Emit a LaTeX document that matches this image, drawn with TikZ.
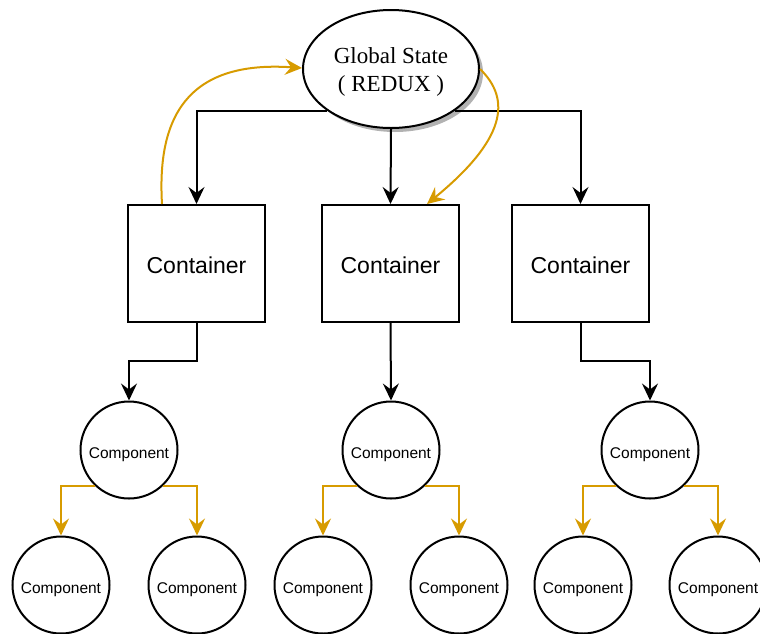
\documentclass[tikz,border=0pt]{standalone}
\usepackage{fontspec}
\setmainfont{Liberation Sans}
\newfontfamily\statefont{Liberation Serif}
\usetikzlibrary{arrows.meta,shapes.geometric,shadows}
\definecolor{flow}{HTML}{D79B00}
\newcommand{\lowerline}[1]{\raisebox{-2.5pt}[\height][\depth]{#1}}
\begin{document}
\begin{tikzpicture}[x=1pt,y=-1pt,
  every path/.style={line width=2pt},
  store/.style={ellipse,draw,fill=white,minimum width=176pt,minimum height=118pt,inner sep=0pt,
    font=\statefont\fontsize{23}{28}\selectfont,align=center,
    drop shadow={shadow xshift=4pt,shadow yshift=-4pt,fill=black!30,opacity=1}},
  container/.style={rectangle,draw,fill=white,minimum width=137pt,minimum height=117pt,inner sep=0pt,
    font=\fontsize{23}{27}\selectfont,text height=19pt,text depth=0pt},
  comp/.style={circle,draw,fill=white,minimum size=97pt,inner sep=0pt,
    font=\fontsize{15.5}{18}\selectfont,text height=16pt,text depth=0pt},
  tip/.style={-{Stealth[length=17pt,width=16pt,inset=6pt]}},
  blk/.style={draw=black,tip},
  org/.style={draw=flow,tip},
]
\useasboundingbox (0,0) rectangle (760,633);

% global store
\node[store] (g) at (391,69) {\lowerline{Global State}\\\lowerline{( REDUX )}};

% containers
\node[container] (c1) at (196.5,263.5) {Container};
\node[container] (c2) at (390.5,263.5) {Container};
\node[container] (c3) at (580.5,263.5) {Container};

% components
\node[comp] (k1) at (129,450) {Component};
\node[comp] (k2) at (391,450) {Component};
\node[comp] (k3) at (650,450) {Component};
\node[comp] (k1a) at (61,585) {Component};
\node[comp] (k1b) at (197,585) {Component};
\node[comp] (k2a) at (323,585) {Component};
\node[comp] (k2b) at (459,585) {Component};
\node[comp] (k3a) at (583,585) {Component};
\node[comp] (k3b) at (718,585) {Component};

% store to containers
\draw[blk] (g.213) -| (c1.north);
\draw[blk] (g.south) -- (c2.north);
\draw[blk] (g.327) -| (c3.north);

% containers to components
\draw[blk] (c1.south) -- ++(0,38) -| (k1.north);
\draw[blk] (c2.south) -- (k2.north);
\draw[blk] (c3.south) -- ++(0,38) -| (k3.north);

% component children
\foreach \p/\a/\b in {k1/k1a/k1b,k2/k2a/k2b,k3/k3a/k3b}{
  \draw[org] (\p.226) -| (\a.north);
  \draw[org] (\p.-46) -| (\b.north);
}

% dispatch and update loop
\draw[org] ([xshift=-34.5pt]c1.north) .. controls (157,120) and (185,60) .. ([yshift=1pt]g.west);
\draw[org] (g.east) .. controls (512,100) and (505,140) .. ([xshift=36.5pt]c2.north);
\end{tikzpicture}
\end{document}
